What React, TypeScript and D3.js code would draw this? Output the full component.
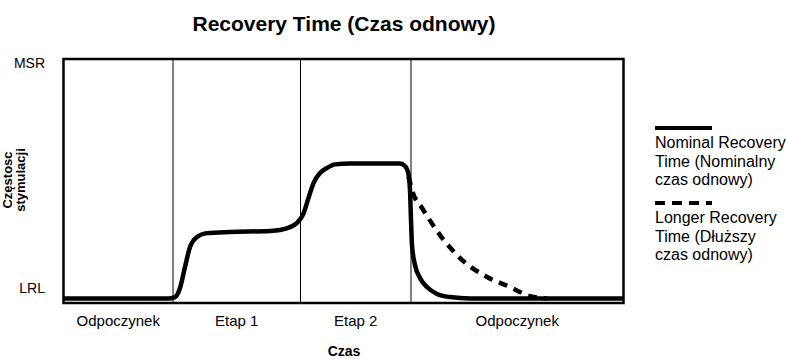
import * as d3 from "d3";
import { useEffect, useRef } from "react";

// phases along the time axis
const phases = ["Odpoczynek", "Etap 1", "Etap 2", "Odpoczynek"];
const phaseBounds = [0, 10.95, 23.7, 34.75, 56];

// nominal recovery curve (time, rate 0 = LRL, 100 = MSR)
const nominalT = [0, 10.45, 11.15, 11.65, 12.15, 12.65, 13.35, 14.35, 16.65, 20.65, 21.65, 22.65, 23.35, 23.95, 24.5, 25.0, 25.65, 26.35, 27.15, 28.65, 33.65, 34.15, 34.45, 34.65, 34.75, 34.85, 35.15, 35.65, 36.35, 37.35, 38.65, 40.65, 56];
const nominalV = [0, 0, 0.6, 4.4, 13.2, 21.5, 25.7, 27.3, 27.8, 28.2, 28.6, 29.8, 31.6, 35, 42, 48.2, 52.4, 54.5, 56, 56.4, 56.4, 55.3, 52.8, 45.3, 32.8, 22.3, 14, 8.6, 4.8, 1.9, 0.6, 0, 0];

// longer recovery curve
const longerT = [34.5, 34.95, 35.85, 37.65, 39.65, 42.35, 44.65, 46.65, 48.35];
const longerV = [51, 44, 37.8, 26.5, 16.9, 9, 4.8, 1, 0];

const yTicks = ["LRL", "MSR"];
const legendItems = [
  { lines: ["Nominal Recovery", "Time (Nominalny", "czas odnowy)"], dash: null },
  { lines: ["Longer Recovery", "Time (Dłuższy", "czas odnowy)"], dash: "10,7" },
];

const W = 786;
const H = 359;
const font = "Liberation Sans, Arial, sans-serif";

const App = () => {
  const ref = useRef(null);

  useEffect(() => {
    const svg = d3.select(ref.current);
    svg.selectAll("*").remove();

    const box = { left: 63.5, right: 623.5, top: 59, bottom: 303 };
    const x = d3.scaleLinear().domain([0, 56]).range([box.left, box.right]);
    const y = d3.scaleLinear().domain([0, 100]).range([298.5, box.top]);

    // title
    svg.append("text")
      .attr("x", 344).attr("y", 31)
      .attr("text-anchor", "middle")
      .style("font", `bold 21px ${font}`)
      .text("Recovery Time (Czas odnowy)");

    // phase dividers
    svg.selectAll(".div")
      .data(phaseBounds.slice(1, -1))
      .enter().append("line")
      .attr("x1", d => x(d)).attr("x2", d => x(d))
      .attr("y1", box.top).attr("y2", box.bottom)
      .attr("stroke", "#000").attr("stroke-width", 1);

    // curves
    const line = d3.line<number>()
      .x((d, i) => x(d))
      .curve(d3.curveMonotoneX);

    svg.append("path")
      .attr("d", line.y((d, i) => y(longerV[i]))(longerT))
      .attr("fill", "none").attr("stroke", "#000")
      .attr("stroke-width", 4.5).attr("stroke-dasharray", "9,7");

    svg.append("path")
      .attr("d", line.y((d, i) => y(nominalV[i]))(nominalT))
      .attr("fill", "none").attr("stroke", "#000")
      .attr("stroke-width", 4.5).attr("stroke-linejoin", "round");

    // frame
    svg.append("rect")
      .attr("x", box.left).attr("y", box.top)
      .attr("width", box.right - box.left).attr("height", box.bottom - box.top)
      .attr("fill", "none").attr("stroke", "#000").attr("stroke-width", 2.5);

    // y tick labels
    svg.selectAll(".ytick")
      .data(yTicks)
      .enter().append("text")
      .attr("x", 45)
      .attr("y", (d, i) => (i === 0 ? 293 : 68))
      .attr("text-anchor", "end")
      .style("font", `14px ${font}`)
      .text(d => d);

    // y axis title
    const yt = svg.append("text")
      .attr("transform", "translate(0,180) rotate(-90)")
      .attr("text-anchor", "middle")
      .style("font", `bold 13px ${font}`);
    yt.append("tspan").attr("x", 0).attr("y", 12).text("Częstosc");
    yt.append("tspan").attr("x", 0).attr("y", 25).text("stymulacji");

    // phase labels
    svg.selectAll(".phase")
      .data(phases)
      .enter().append("text")
      .attr("x", (d, i) => x((phaseBounds[i] + phaseBounds[i + 1]) / 2))
      .attr("y", 326)
      .attr("text-anchor", "middle")
      .style("font", `15px ${font}`)
      .text(d => d);

    svg.append("text")
      .attr("x", 344).attr("y", 356)
      .attr("text-anchor", "middle")
      .style("font", `bold 14px ${font}`)
      .text("Czas");

    // legend
    const lg = svg.selectAll(".lg")
      .data(legendItems)
      .enter().append("g")
      .attr("transform", (d, i) => `translate(655, ${128 + i * 75})`);
    lg.append("line")
      .attr("x1", 0).attr("x2", 57)
      .attr("stroke", "#000").attr("stroke-width", 4)
      .attr("stroke-dasharray", d => d.dash);
    lg.each(function (d) {
      const g = d3.select(this);
      d.lines.forEach((t, j) => {
        g.append("text")
          .attr("x", 0).attr("y", 20 + j * 18.5)
          .style("font", `16px ${font}`)
          .text(t);
      });
    });
  }, []);

  return (
    <svg ref={ref} width={W} height={H}
      style={{ position: "absolute", left: 0, top: 0, background: "#fff" }} />
  );
};

export default App;
